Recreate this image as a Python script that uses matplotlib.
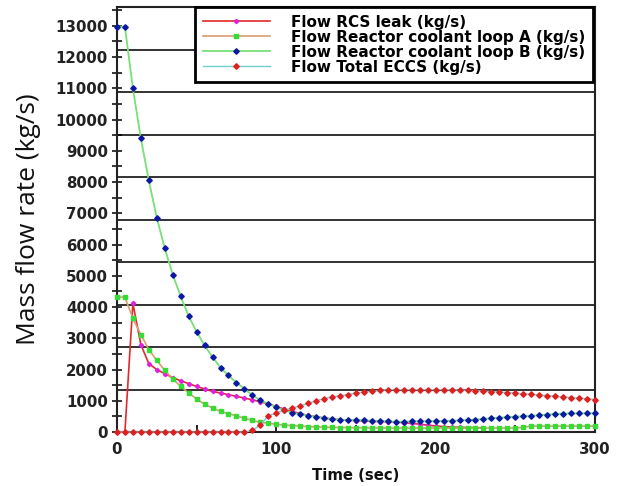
import numpy as np
import matplotlib
matplotlib.use('Agg')
import matplotlib.pyplot as plt
from matplotlib.ticker import MultipleLocator

# sample times (s), one marker every 5 s
time_s = list(range(0, 301, 5))

# Flow RCS leak (kg/s) - ends near 230 s
rcs_leak = [0, 0, 4120, 2800, 2190, 2000, 1870, 1740, 1640, 1550,
            1460, 1380, 1300, 1250, 1195, 1140, 1090, 1030, 975, 900,
            820, 730, 660, 590, 530, 490, 450, 420, 395, 385,
            365, 355, 345, 335, 330, 320, 300, 280, 250, 220,
            195, 175, 160, 150, 145, 140, 135]

# Flow Reactor coolant loop A (kg/s)
loop_a = [4330, 4310, 3640, 3120, 2640, 2290, 1980, 1700, 1460, 1250,
          1060, 890, 770, 660, 590, 520, 440, 375, 310, 280,
          250, 225, 205, 190, 175, 165, 155, 150, 145, 140,
          135, 132, 130, 130, 130, 130, 128, 128, 128, 128,
          128, 128, 128, 128, 128, 128, 128, 128, 128, 128,
          128, 150, 190, 190, 190, 190, 190, 190, 190, 190,
          190]

# Flow Reactor coolant loop B (kg/s)
loop_b = [12970, 12970, 11000, 9400, 8050, 6860, 5880, 5040, 4340, 3710,
          3210, 2770, 2400, 2060, 1810, 1580, 1390, 1175, 1020, 905,
          800, 690, 620, 570, 525, 485, 445, 410, 395, 382,
          380, 375, 365, 355, 345, 335, 335, 340, 345, 350,
          350, 355, 360, 370, 385, 400, 420, 440, 460, 475,
          490, 505, 520, 540, 560, 575, 590, 595, 600, 600,
          600]

# Flow Total ECCS (kg/s)
eccs = [0, 0, 0, 0, 0, 0, 0, 0, 0, 0,
        0, 0, 0, 0, 0, 0, 0, 50, 230, 520,
        610, 700, 770, 840, 920, 1000, 1070, 1120, 1160, 1200,
        1250, 1280, 1300, 1330, 1360, 1360, 1360, 1360, 1360, 1360,
        1360, 1360, 1355, 1345, 1335, 1325, 1310, 1295, 1280, 1265,
        1245, 1225, 1205, 1185, 1165, 1145, 1125, 1105, 1085, 1065,
        1040]

x_ticks = [0, 100, 200, 300]
y_ticks = list(range(0, 13001, 1000))
grid_step = 1360

plt.rcParams['font.family'] = ['DejaVu Sans']

fig = plt.figure(figsize=(6.22, 4.86), dpi=100)
ax = fig.add_axes([0.188, 0.111, 0.7686, 0.8746])

ax.set_xlim(0, 300)
ax.set_ylim(0, 13600)

# horizontal grid lines (10 divisions of the y range)
for g in np.arange(grid_step, 13600, grid_step):
    ax.axhline(g, color='#222222', lw=1.3, zorder=1)

ax.plot(time_s[:len(rcs_leak)], rcs_leak, color='#e02a2a', lw=1.2,
        marker='D', ms=2.2, mfc='#e020e0', mec='#e020e0',
        label='Flow RCS leak (kg/s)', zorder=3, clip_on=False)
ax.plot(time_s, loop_a, color='#d8a070', lw=1.2,
        marker='s', ms=2.8, mfc='#33dd33', mec='#33dd33',
        label='Flow Reactor coolant loop A (kg/s)', zorder=4, clip_on=False)
ax.plot(time_s, loop_b, color='#77e077', lw=1.3,
        marker='D', ms=2.8, mfc='#0a1aa0', mec='#0a1aa0',
        label='Flow Reactor coolant loop B (kg/s)', zorder=5, clip_on=False)
ax.plot(time_s, eccs, color='#70d0d0', lw=1.0,
        marker='D', ms=2.8, mfc='#e02020', mec='#e02020',
        label='Flow Total ECCS (kg/s)', zorder=6, clip_on=False)

ax.set_xticks(x_ticks)
ax.xaxis.set_minor_locator(MultipleLocator(50))
ax.set_yticks(y_ticks)
ax.yaxis.set_minor_locator(MultipleLocator(500))
ax.tick_params(axis='x', which='both', direction='in', length=5, width=1.2,
               labelsize=10.8, pad=7)
ax.tick_params(axis='y', which='both', direction='inout', length=7, width=1.1,
               labelsize=10.8, pad=3)
for lab in ax.get_xticklabels() + ax.get_yticklabels():
    lab.set_fontweight('bold')
    lab.set_color('#222222')

for s in ax.spines.values():
    s.set_linewidth(1.5)
    s.set_color('#222222')

ax.set_xlabel('Time (sec)', fontsize=10.7, fontweight='bold', labelpad=8,
              color='#111111')
ax.set_ylabel('Mass flow rate (kg/s)', fontsize=19, family='Open Sans',
              color='#111111')
ax.yaxis.set_label_coords(-0.158, 0.5)

leg = ax.legend(loc='upper right', bbox_to_anchor=(0.996, 1.0),
                prop={'weight': 'bold', 'size': 11}, frameon=True,
                fancybox=False, framealpha=1, edgecolor='black',
                handlelength=4.4, handletextpad=1.4, labelspacing=0.0,
                borderpad=0.5, borderaxespad=0)
leg.get_frame().set_linewidth(2)
leg.set_zorder(10)

fig.savefig('out.png', dpi=100)
